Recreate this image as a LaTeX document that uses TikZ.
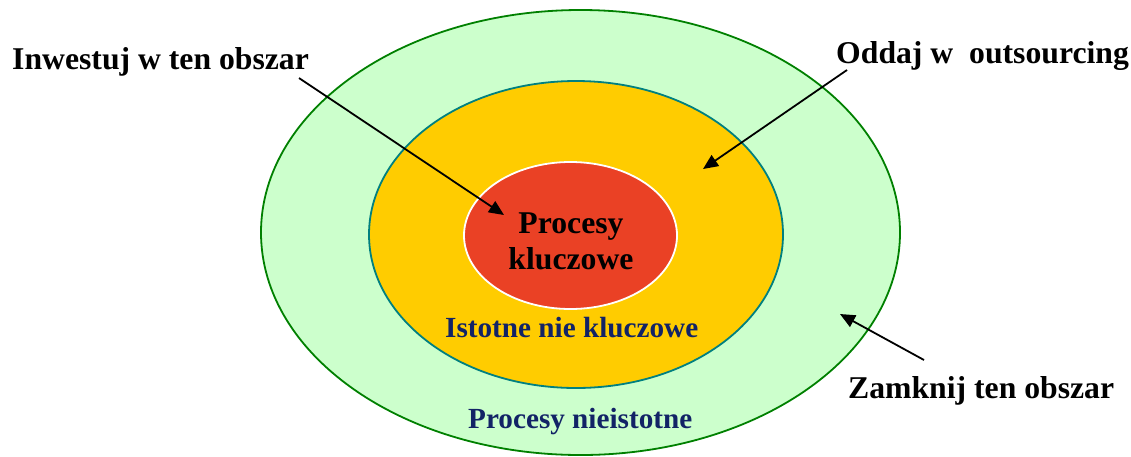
\documentclass[tikz,border=0pt]{standalone}
\usepackage{fontspec}
\setmainfont{Liberation Serif}
\usetikzlibrary{shapes.geometric,arrows.meta}

\definecolor{outerfill}{rgb}{0.800000, 1.000000, 0.800000}
\definecolor{outerline}{rgb}{0.000000, 0.501961, 0.000000}
\definecolor{midfill}{rgb}{1.000000, 0.800000, 0.000000}
\definecolor{midline}{rgb}{0.000000, 0.501961, 0.501961}
\definecolor{corefill}{rgb}{0.917647, 0.254902, 0.145098}
\definecolor{navytext}{rgb}{0.070588, 0.137255, 0.400000}

\newcommand{\lblfont}{\fontsize{31.7}{36}\selectfont\bfseries}
\newcommand{\innerfont}{\fontsize{29.2}{34}\selectfont\bfseries}

\tikzset{
  ring/.style={ellipse, inner sep=0pt, line width=1.8pt},
  lbl/.style={font=\lblfont, inner sep=0pt, anchor=base west},
  innerlbl/.style={font=\innerfont, text=navytext, inner sep=0pt, anchor=base west},
  arr/.style={line width=1.8pt, -{Triangle[length=15pt,width=13pt]}}
}

\begin{document}
\begin{tikzpicture}[x=1pt,y=-1pt]
\useasboundingbox (0,0) rectangle (1131,456);
% the three rings
\node[ring, draw=outerline, fill=outerfill, minimum width=639pt, minimum height=445pt] (outer) at (580.5,232.5) {};
\node[ring, draw=midline, fill=midfill, minimum width=414pt, minimum height=307pt] (mid) at (576,234.5) {};
\node[ring, draw=white, fill=corefill, minimum width=213pt, minimum height=147pt] (core) at (570.5,235.5) {};
% texts inside
\node[font=\lblfont, align=center, inner sep=0pt] (coretext) at (571,241) {Procesy\\kluczowe};
\node[innerlbl] (midtext) at (445,337) {Istotne nie kluczowe};
\node[innerlbl] (outertext) at (468,428) {Procesy nieistotne};
% texts outside
\node[lbl] (invest) at (12,69) {Inwestuj w ten obszar};
\node[lbl] (outsrc) at (836,63) {Oddaj w\ \ outsourcing};
\node[lbl] (close) at (848,398) {Zamknij ten obszar};
% arrow ends
\coordinate (investfrom) at (299,78);
\coordinate (investto) at (504,215);
\coordinate (outsrcfrom) at (847,70);
\coordinate (outsrcto) at (703,169);
\coordinate (closefrom) at (924,360);
\coordinate (closeto) at (840,314);
\draw[arr] (investfrom) -- (investto);
\draw[arr] (outsrcfrom) -- (outsrcto);
\draw[arr] (closefrom) -- (closeto);
\end{tikzpicture}
\end{document}
